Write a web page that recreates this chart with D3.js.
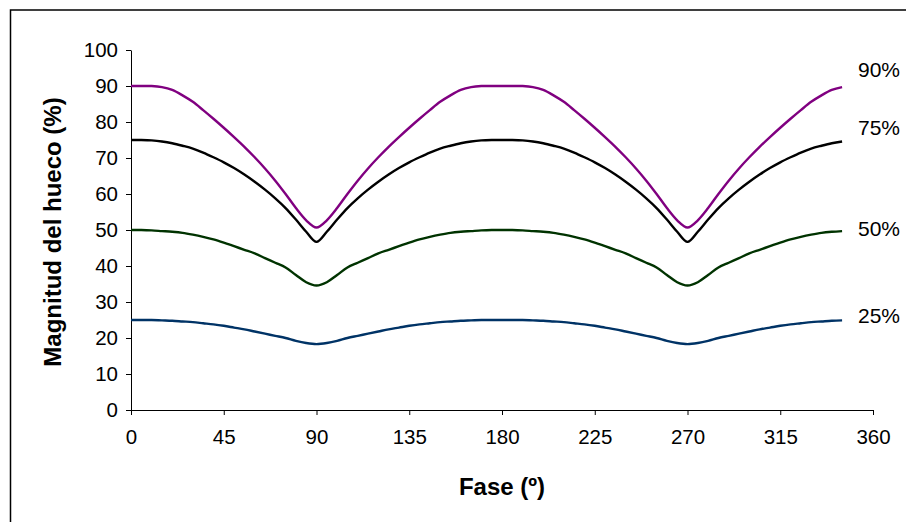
<!DOCTYPE html>
<html>
<head>
<meta charset="utf-8">
<script src="https://cdn.jsdelivr.net/npm/d3@7/dist/d3.min.js"></script>
<style>
  html, body { margin: 0; padding: 0; background: #fff; }
  svg { display: block; }
  text { font-family: "Liberation Sans", Arial, sans-serif; fill: #000; }
</style>
</head>
<body>
<svg id="chart" width="906" height="522"></svg>
<script>
// ---- data ----
const phases = [0,5,10,15,20,25,30,35,40,45,50,55,60,65,70,75,80,85,90,
  95,100,105,110,115,120,125,130,135,140,145,150,155,160,165,170,175,180,
  185,190,195,200,205,210,215,220,225,230,235,240,245,250,255,260,265,270,
  275,280,285,290,295,300,305,310,315,320,325,330,335,340,345];

const sag90 = [90,90,90,89.7,88.9,87.4,85.6,83.3,80.9,78.4,75.8,73.1,70.2,67.1,63.7,60,56.1,52.7,50.7,
  52.7,56.1,60,63.7,67.1,70.2,73.1,75.8,78.4,80.9,83.3,85.6,87.4,88.9,89.7,90,90,90,
  90,90,89.7,88.9,87.4,85.6,83.3,80.9,78.4,75.8,73.1,70.2,67.1,63.7,60,56.1,52.7,50.7,
  52.7,56.1,60,63.7,67.1,70.2,73.1,75.8,78.4,80.9,83.3,85.6,87.4,88.9,89.7];

const sag75 = [75,75,74.9,74.6,74.1,73.4,72.6,71.5,70.2,68.8,67.2,65.4,63.4,61.2,58.8,56.1,52.9,49.5,46.7,
  49.5,52.9,56.1,58.8,61.2,63.4,65.4,67.2,68.8,70.2,71.5,72.6,73.4,74.1,74.6,74.9,75,75,
  75,74.9,74.6,74.1,73.4,72.6,71.5,70.2,68.8,67.2,65.4,63.4,61.2,58.8,56.1,52.9,49.5,46.7,
  49.5,52.9,56.1,58.8,61.2,63.4,65.4,67.2,68.8,70.2,71.5,72.6,73.4,74.1,74.6];

const sag50 = [50,50,49.9,49.7,49.5,49.2,48.7,48.1,47.4,46.5,45.5,44.5,43.5,42.2,40.9,39.6,37.5,35.5,34.6,
  35.5,37.5,39.6,40.9,42.2,43.5,44.5,45.5,46.5,47.4,48.1,48.7,49.2,49.5,49.7,49.9,50,50,
  50,49.9,49.7,49.5,49.2,48.7,48.1,47.4,46.5,45.5,44.5,43.5,42.2,40.9,39.6,37.5,35.5,34.6,
  35.5,37.5,39.6,40.9,42.2,43.5,44.5,45.5,46.5,47.4,48.1,48.7,49.2,49.5,49.7];

const sag25 = [25,25,25,24.9,24.8,24.6,24.4,24.1,23.8,23.4,22.9,22.4,21.8,21.2,20.6,20,19.2,18.6,18.3,
  18.6,19.2,20,20.6,21.2,21.8,22.4,22.9,23.4,23.8,24.1,24.4,24.6,24.8,24.9,25,25,25,
  25,25,24.9,24.8,24.6,24.4,24.1,23.8,23.4,22.9,22.4,21.8,21.2,20.6,20,19.2,18.6,18.3,
  18.6,19.2,20,20.6,21.2,21.8,22.4,22.9,23.4,23.8,24.1,24.4,24.6,24.8,24.9];

const seriesNames = ["90%", "75%", "50%", "25%"];
const seriesColors = ["#800080", "#000000", "#003300", "#003366"];
const labelValues = [94.5, 78.4, 50.3, 26.1];   // where the end labels sit on the value axis

const xTicks = [0,45,90,135,180,225,270,315,360];
const yTicks = [0,10,20,30,40,50,60,70,80,90,100];

const xTitle = "Fase (º)";
const yTitle = "Magnitud del hueco (%)";

// ---- layout ----
const svg = d3.select("#chart");
const m = { left: 131, right: 873, top: 50, bottom: 410 };

const x = d3.scaleLinear().domain([0, 360]).range([m.left, m.right]);
const y = d3.scaleLinear().domain([0, 100]).range([m.bottom, m.top]);

// outer frame
svg.append("rect")
  .attr("x", 10.5).attr("y", 10).attr("width", 930).attr("height", 540)
  .attr("fill", "none").attr("stroke", "#000").attr("stroke-width", 1.5);

// axes
const yAxis = svg.append("g").attr("transform", `translate(${m.left},0)`)
  .call(d3.axisLeft(y).tickValues(yTicks).tickSize(5).tickSizeOuter(0).tickPadding(8));
const xAxis = svg.append("g").attr("transform", `translate(0,${m.bottom})`)
  .call(d3.axisBottom(x).tickValues(xTicks).tickSize(5).tickSizeOuter(0).tickPadding(14));

[yAxis, xAxis].forEach(g => {
  g.selectAll("path.domain").attr("stroke", "#000").attr("stroke-width", 1);
  g.selectAll(".tick line").attr("stroke", "#000").attr("stroke-width", 1);
  g.selectAll(".tick text").attr("font-size", 20.5)
    .attr("font-family", "'Liberation Sans', Arial, sans-serif").attr("fill", "#000");
});

// lines
const seriesData = [sag90, sag75, sag50, sag25];
const line = d3.line()
  .x((d, i) => x(phases[i]))
  .y(d => y(d))
  .curve(d3.curveCardinal.tension(0));

seriesData.forEach((vals, k) => {
  svg.append("path")
    .datum(vals)
    .attr("d", line)
    .attr("fill", "none")
    .attr("stroke", seriesColors[k])
    .attr("stroke-width", 2.4)
    .attr("stroke-linejoin", "round");
});

// end labels
seriesNames.forEach((name, k) => {
  svg.append("text")
    .attr("x", 858)
    .attr("y", y(labelValues[k]))
    .attr("dy", "0.35em")
    .attr("font-size", 21)
    .text(name);
});

// titles
svg.append("text")
  .attr("x", (m.left + m.right) / 2)
  .attr("y", 495)
  .attr("text-anchor", "middle")
  .attr("font-size", 24)
  .attr("font-weight", "bold")
  .text(xTitle);

svg.append("text")
  .attr("transform", `translate(61,${(m.top + m.bottom) / 2 + 2}) rotate(-90)`)
  .attr("text-anchor", "middle")
  .attr("font-size", 24)
  .attr("font-weight", "bold")
  .text(yTitle);
</script>
</body>
</html>
